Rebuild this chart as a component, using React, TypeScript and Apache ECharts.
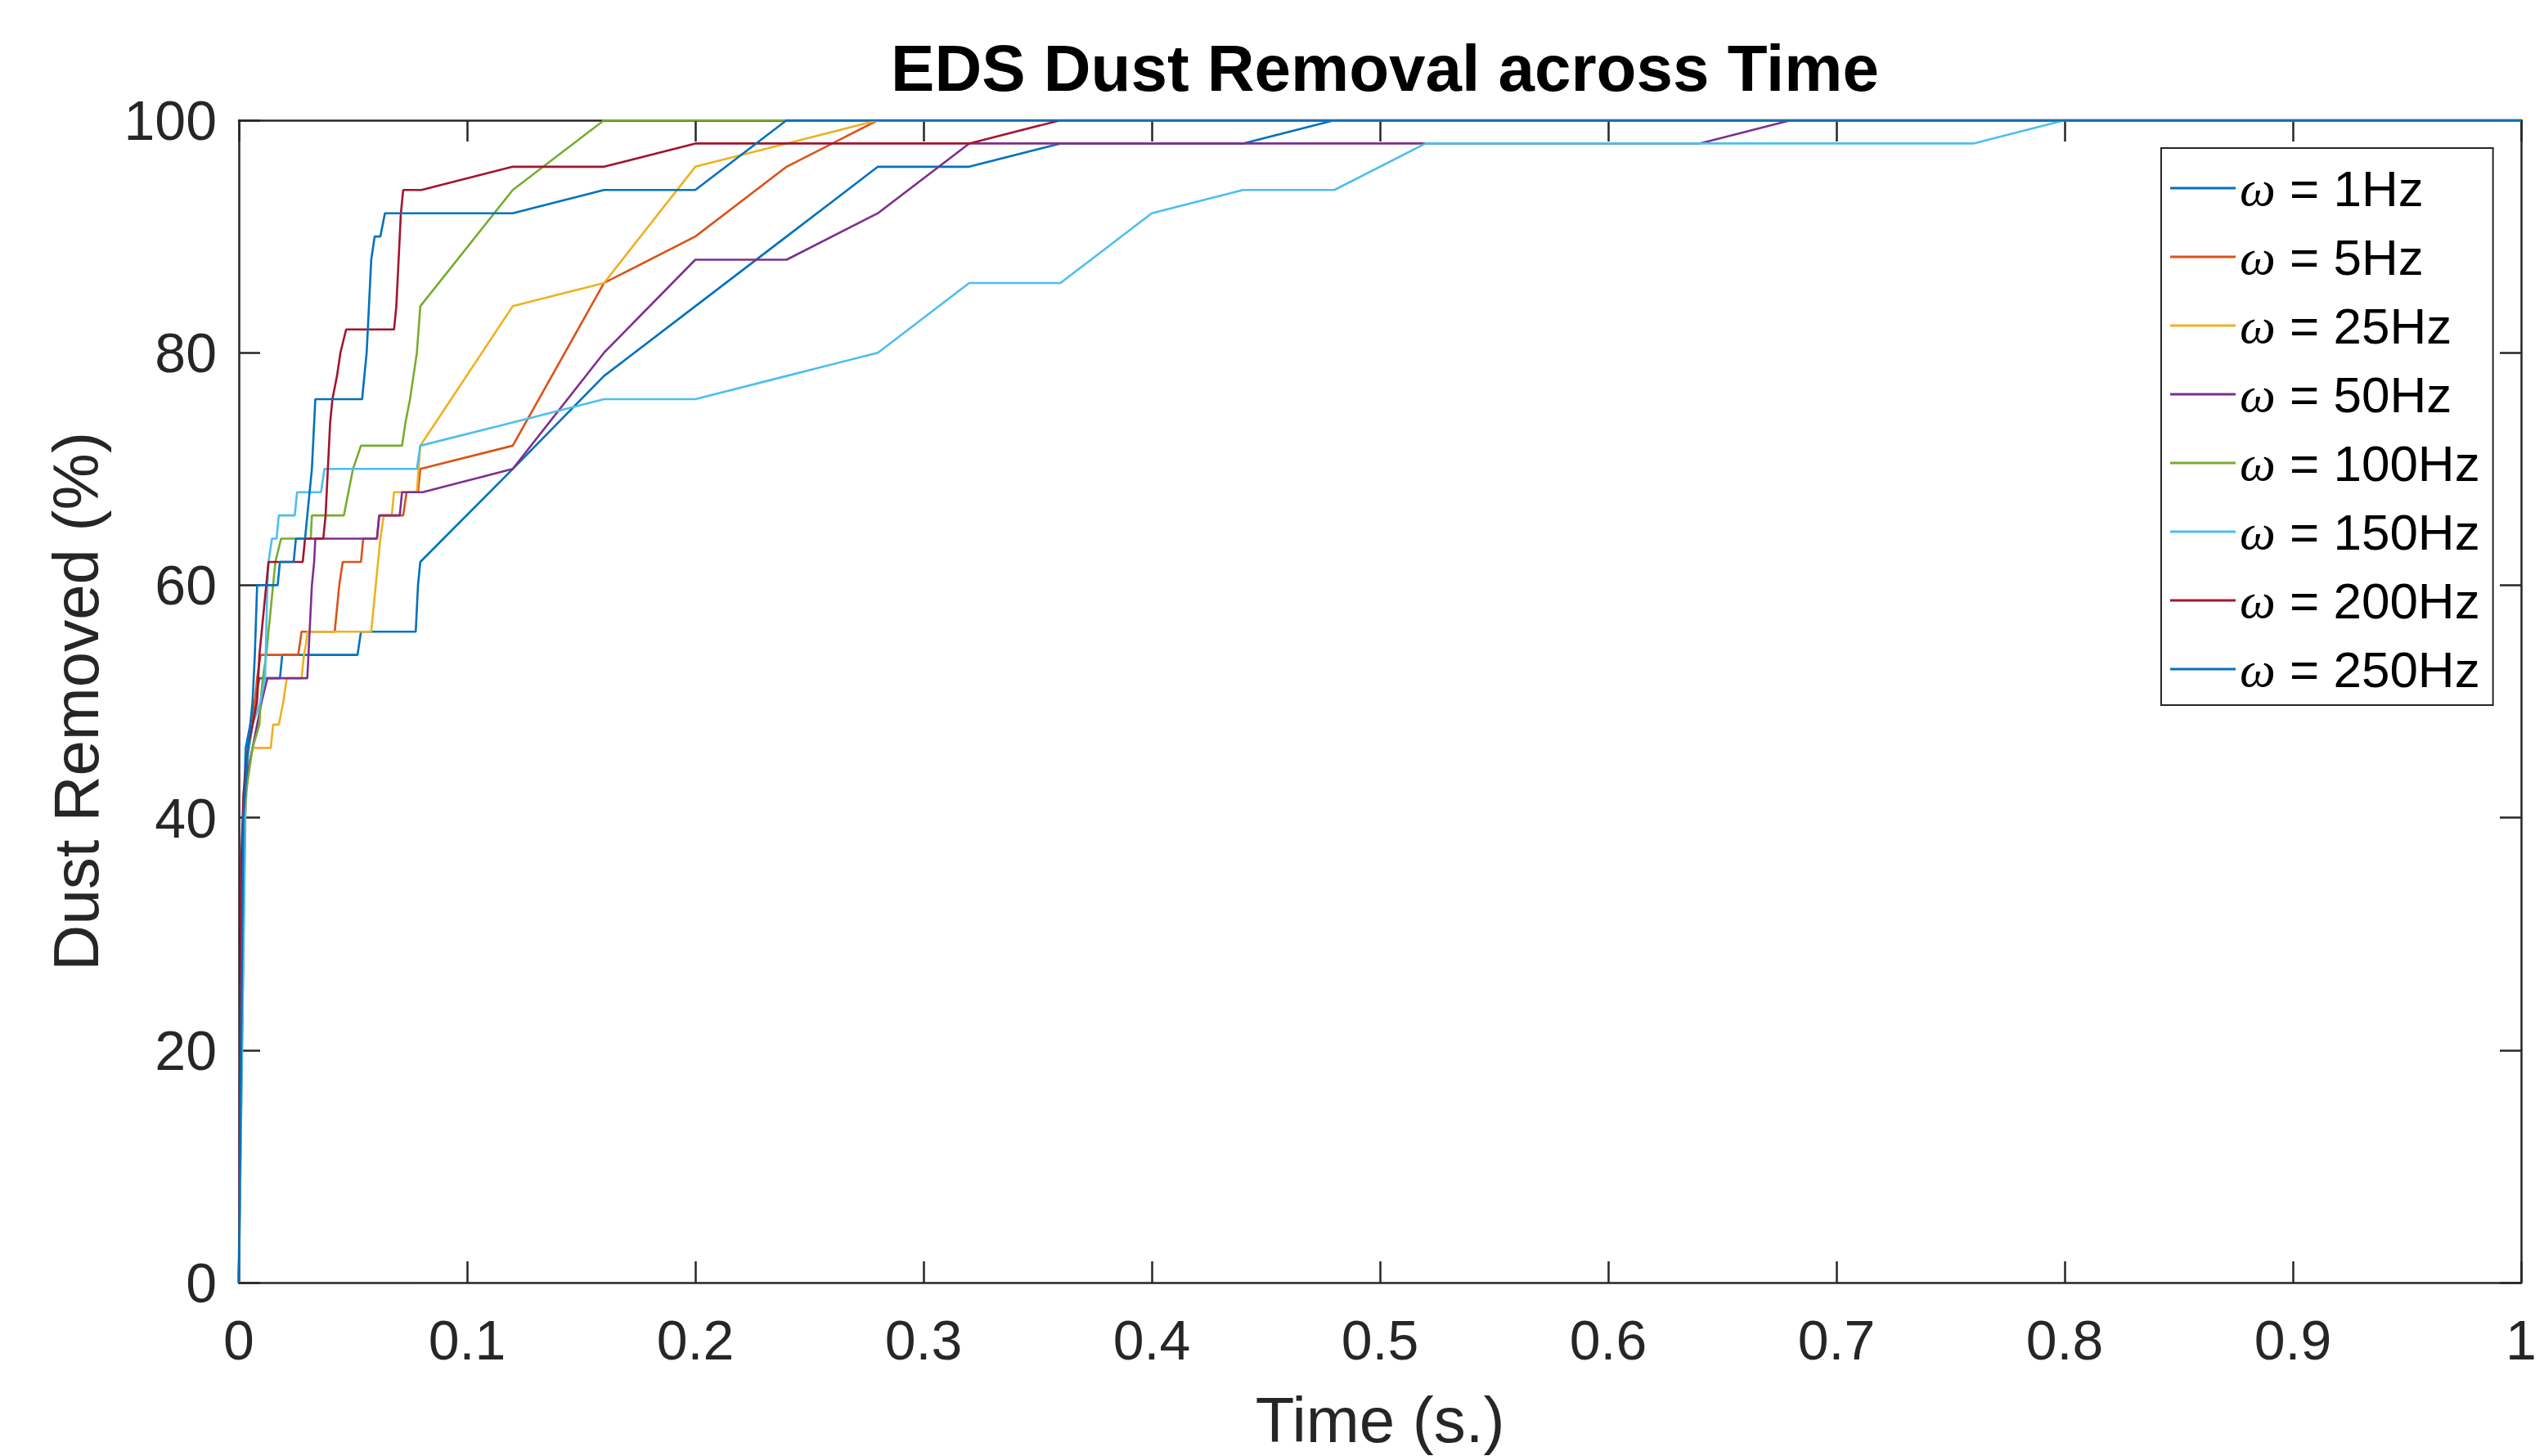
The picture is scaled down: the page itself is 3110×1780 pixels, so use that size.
import React, { useEffect, useRef } from "react";
import * as echarts from "echarts";

const TITLE = "EDS Dust Removal across Time";
const X_NAME = "Time (s.)";
const Y_NAME = "Dust Removed (%)";

const SERIES_NAMES = [
  "ω = 1Hz",
  "ω = 5Hz",
  "ω = 25Hz",
  "ω = 50Hz",
  "ω = 100Hz",
  "ω = 150Hz",
  "ω = 200Hz",
  "ω = 250Hz",
];

const COLORS = [
  "#0072BD",
  "#D95319",
  "#EDB120",
  "#7E2F8E",
  "#77AC30",
  "#4DBEEE",
  "#A2142F",
  "#0072BD",
];

// [time (s), dust removed (%)]
const hz1 = [
  [0, 0], [0.001, 30], [0.002, 40], [0.003, 46], [0.005, 48], [0.007, 50], [0.009, 52],
  [0.018, 52], [0.019, 54], [0.052, 54], [0.0535, 56], [0.0775, 56], [0.0785, 60],
  [0.0795, 62], [0.12, 70], [0.16, 78], [0.2, 84], [0.24, 90], [0.28, 96], [0.32, 96],
  [0.36, 98], [0.44, 98], [0.48, 100], [1, 100],
];

const hz5 = [
  [0, 0], [0.002, 40], [0.004, 46], [0.006, 48], [0.007, 50], [0.008, 52], [0.0095, 54],
  [0.026, 54], [0.0275, 56], [0.042, 56], [0.043, 58], [0.044, 60], [0.0455, 62],
  [0.0535, 62], [0.0545, 64], [0.0605, 64], [0.0615, 66], [0.072, 66], [0.0735, 68],
  [0.0785, 68], [0.0795, 70], [0.12, 72], [0.16, 86], [0.2, 90], [0.24, 96], [0.28, 100],
  [1, 100],
];

const hz25 = [
  [0, 0], [0.002, 38], [0.004, 44], [0.006, 46], [0.014, 46], [0.015, 48], [0.0175, 48],
  [0.0185, 49], [0.0195, 50], [0.021, 52], [0.0275, 52], [0.0285, 54], [0.0295, 55],
  [0.03, 56], [0.058, 56], [0.059, 58], [0.06, 60], [0.061, 62], [0.062, 64], [0.0635, 66],
  [0.067, 66], [0.068, 68], [0.078, 68], [0.0795, 72], [0.12, 84], [0.16, 86], [0.2, 96],
  [0.24, 98], [0.28, 100], [1, 100],
];

const hz50 = [
  [0, 0], [0.002, 40], [0.004, 44], [0.006, 46], [0.008, 48], [0.01, 50], [0.0125, 52],
  [0.03, 52], [0.031, 56], [0.032, 60], [0.033, 62], [0.0335, 64], [0.0605, 64],
  [0.0615, 66], [0.0705, 66], [0.0715, 68], [0.0805, 68], [0.12, 70], [0.16, 80],
  [0.2, 88], [0.24, 88], [0.28, 92], [0.32, 98], [0.64, 98], [0.68, 100], [1, 100],
];

const hz100 = [
  [0, 0], [0.003, 42], [0.006, 46], [0.009, 48], [0.0095, 50], [0.0105, 52], [0.012, 54],
  [0.013, 56], [0.014, 58], [0.015, 60], [0.016, 62], [0.0185, 64], [0.0315, 64],
  [0.032, 66], [0.046, 66], [0.048, 68], [0.05, 70], [0.0535, 72], [0.0715, 72],
  [0.073, 74], [0.075, 76], [0.0765, 78], [0.078, 80], [0.0795, 84], [0.12, 94],
  [0.16, 100], [1, 100],
];

const hz150 = [
  [0, 0], [0.003, 44], [0.006, 48], [0.0095, 50], [0.0115, 52], [0.012, 56], [0.0125, 60],
  [0.013, 62], [0.0145, 64], [0.0165, 64], [0.0175, 66], [0.0245, 66], [0.0255, 68],
  [0.036, 68], [0.0375, 70], [0.078, 70], [0.0795, 72], [0.12, 74], [0.16, 76], [0.2, 76],
  [0.24, 78], [0.28, 80], [0.32, 86], [0.36, 86], [0.4, 92], [0.44, 94], [0.48, 94],
  [0.52, 98], [0.76, 98], [0.8, 100], [1, 100],
];

const hz200 = [
  [0, 0], [0.0005, 18], [0.001, 36], [0.002, 42], [0.004, 46], [0.006, 48], [0.008, 50],
  [0.009, 54], [0.01, 56], [0.011, 58], [0.012, 60], [0.013, 62], [0.028, 62], [0.029, 64],
  [0.037, 64], [0.038, 66], [0.0385, 68], [0.039, 70], [0.0395, 72], [0.04, 74],
  [0.041, 76], [0.043, 78], [0.0445, 80], [0.047, 82], [0.068, 82], [0.069, 84],
  [0.07, 88], [0.071, 92], [0.072, 94], [0.08, 94], [0.12, 96], [0.16, 96], [0.2, 98],
  [0.32, 98], [0.36, 100], [1, 100],
];

const hz250 = [
  [0, 0], [0.002, 40], [0.004, 46], [0.005, 48], [0.006, 50], [0.007, 54], [0.008, 60],
  [0.017, 60], [0.018, 62], [0.024, 62], [0.025, 64], [0.029, 64], [0.03, 66], [0.031, 68],
  [0.032, 70], [0.0325, 72], [0.033, 74], [0.0335, 76], [0.054, 76], [0.055, 78],
  [0.056, 80], [0.057, 84], [0.058, 88], [0.0595, 90], [0.062, 90], [0.064, 92],
  [0.12, 92], [0.16, 94], [0.2, 94], [0.24, 100], [1, 100],
];

const SERIES_DATA = [hz1, hz5, hz25, hz50, hz100, hz150, hz200, hz250];

const X_TICKS = { min: 0, max: 1, interval: 0.1 };
const Y_TICKS = { min: 0, max: 100, interval: 20 };

const FONT = "'Liberation Sans', Arial, Helvetica, sans-serif";
const AXIS_COLOR = "#262626";

export default function App() {
  const ref = useRef<HTMLDivElement>(null);

  useEffect(() => {
    if (!ref.current) return;
    const chart = echarts.init(ref.current, undefined, { renderer: "svg" });

    const axisLine = { show: true, onZero: false, lineStyle: { color: AXIS_COLOR, width: 2.5 } };
    const axisTick = { show: true, inside: true, length: 26, lineStyle: { color: AXIS_COLOR, width: 2.5 } };

    const option: any = {
      animation: false,
      backgroundColor: "#ffffff",
      title: {
        text: TITLE,
        left: 1688,
        top: 38,
        textAlign: "center",
        textStyle: { fontSize: 80, fontWeight: "bold", color: "#000000", fontFamily: FONT },
      },
      grid: { left: 292, right: 28, top: 147, bottom: 207, containLabel: false },
      legend: {
        orient: "vertical",
        left: 2642,
        top: 181,
        padding: [18, 16, 13, 11],
        icon: "rect",
        itemWidth: 80,
        itemHeight: 3,
        itemGap: 22,
        backgroundColor: "#ffffff",
        borderColor: AXIS_COLOR,
        borderWidth: 2,
        borderRadius: 0,
        data: SERIES_NAMES,
        formatter: (name: string) => `{w|${name.slice(0, 1)}}{t|${name.slice(1)}}`,
        textStyle: {
          fontSize: 62,
          lineHeight: 62,
          color: "#000000",
          fontFamily: FONT,
          rich: {
            w: { fontSize: 62, lineHeight: 62, fontStyle: "italic", fontFamily: "'Liberation Serif', 'DejaVu Serif', serif", color: "#000000" },
            t: { fontSize: 62, lineHeight: 62, fontFamily: FONT, color: "#000000" },
          },
        },
      },
      xAxis: [
        {
          type: "value",
          position: "bottom",
          ...X_TICKS,
          axisLine,
          axisTick,
          splitLine: { show: false },
          axisLabel: { fontSize: 68, margin: 36, color: AXIS_COLOR, fontFamily: FONT },
          name: X_NAME,
          nameLocation: "middle",
          nameGap: 129,
          nameTextStyle: { fontSize: 78, color: AXIS_COLOR, fontFamily: FONT },
        },
        {
          type: "value",
          position: "top",
          ...X_TICKS,
          axisLine,
          axisTick,
          splitLine: { show: false },
          axisLabel: { show: false },
        },
      ],
      yAxis: [
        {
          type: "value",
          position: "left",
          ...Y_TICKS,
          axisLine,
          axisTick,
          splitLine: { show: false },
          axisLabel: { fontSize: 68, margin: 27, color: AXIS_COLOR, fontFamily: FONT },
          name: Y_NAME,
          nameLocation: "middle",
          nameGap: 160,
          nameTextStyle: { fontSize: 78, color: AXIS_COLOR, fontFamily: FONT },
        },
        {
          type: "value",
          position: "right",
          ...Y_TICKS,
          axisLine,
          axisTick,
          splitLine: { show: false },
          axisLabel: { show: false },
        },
      ],
      series: SERIES_DATA.map((d, i) => ({
        name: SERIES_NAMES[i],
        type: "line",
        xAxisIndex: 0,
        yAxisIndex: 0,
        data: d,
        symbol: "none",
        showSymbol: false,
        smooth: false,
        clip: true,
        color: COLORS[i],
        itemStyle: { color: COLORS[i] },
        lineStyle: { color: COLORS[i], width: 2.6 },
        emphasis: { disabled: true },
      })),
    };

    chart.setOption(option);
    return () => chart.dispose();
  }, []);

  return (
    <div
      ref={ref}
      style={{ position: "absolute", left: 0, top: 0, width: 3110, height: 1780, background: "#fff" }}
    />
  );
}
